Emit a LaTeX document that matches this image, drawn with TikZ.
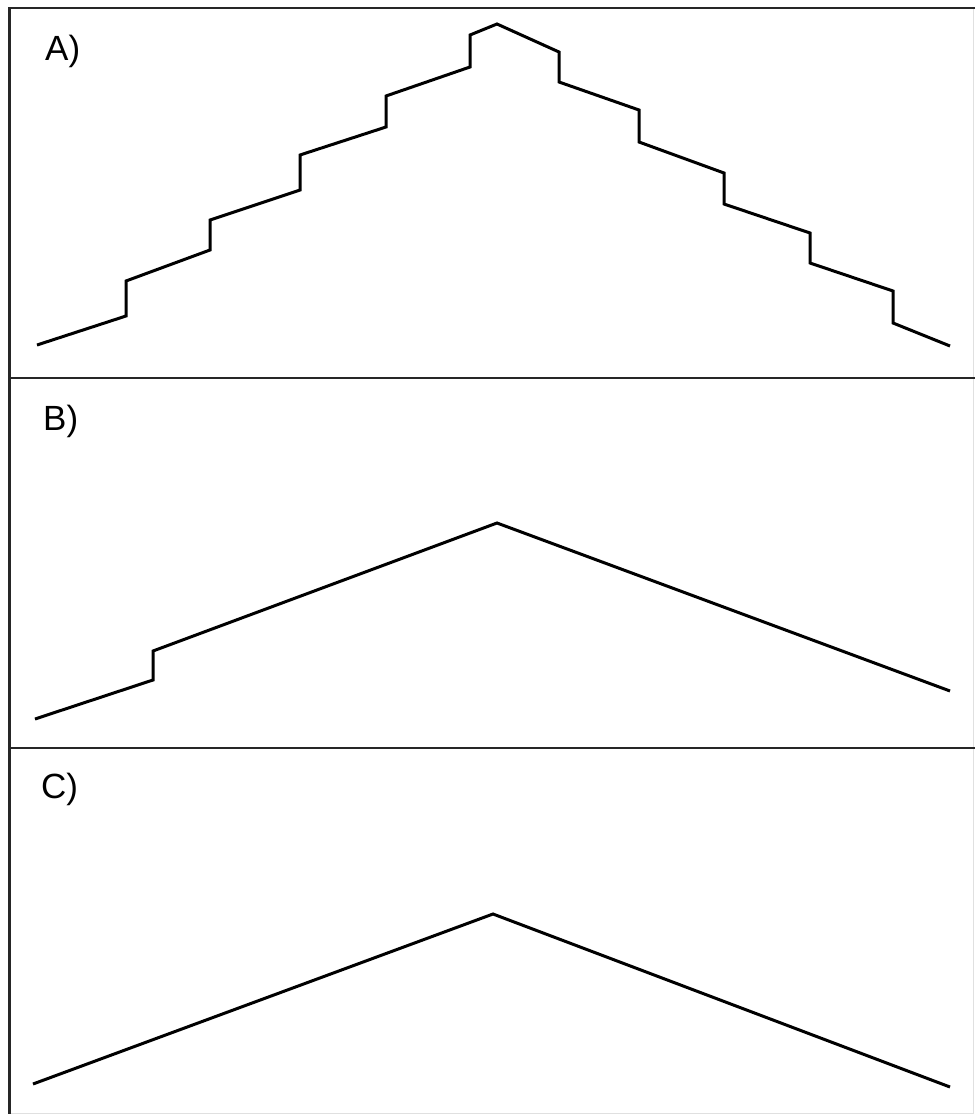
\documentclass[tikz,border=0pt]{standalone}
\usepackage{fontspec}
\setmainfont{Liberation Sans}
\begin{document}
\begin{tikzpicture}[x=1pt,y=-1pt,
  frameline/.style={line width=2.6pt,black!85},
  faintline/.style={line width=1pt,black!12},
  roofline/.style={line width=3pt,black,line join=miter},
  paneltag/.style={anchor=base west,inner sep=0pt,font=\fontsize{35}{35}\selectfont}]
\useasboundingbox (0,0) rectangle (975,1116);
\fill[white] (0,0) rectangle (975,1116);
% faint right / bottom edges
\draw[faintline] (973,8) -- (973,1113) -- (10,1113);
% frame
\draw[frameline] (975,8) -- (9.5,8) -- (9.5,1114);
\draw[frameline] (9.5,378) -- (975,378);
\draw[frameline] (9.5,748) -- (975,748);
% labels
\node[paneltag] (la) at (45,60) {A)};
\node[paneltag] (lb) at (43,430) {B)};
\node[paneltag] (lc) at (41,798) {C)};
% A: stepped roof
\draw[roofline] (37,345) -- (126,316) -- (126,281) -- (210,250) -- (210,220)
  -- (300,190) -- (300,155) -- (386,127) -- (386,96) -- (470,67) -- (470,35)
  -- (497,24) -- (559,52) -- (559,82) -- (639,110) -- (639,142) -- (724,173)
  -- (724,204) -- (810,233) -- (810,263) -- (893,291) -- (893,323) -- (950,346);
% B: single step
\draw[roofline] (35,719) -- (153,680) -- (153,651) -- (497,523) -- (950,691);
% C: plain
\draw[roofline] (33,1084) -- (493,914) -- (950,1087);
\end{tikzpicture}
\end{document}
